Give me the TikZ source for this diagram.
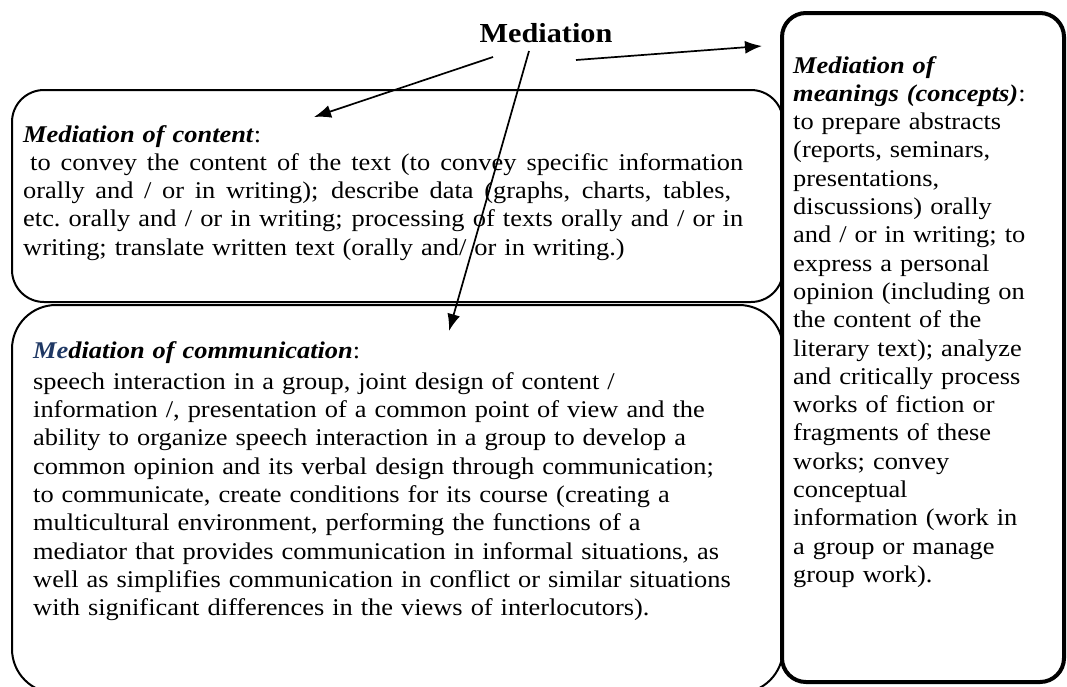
\documentclass[tikz,border=0pt]{standalone}
\usepackage{fontspec}
\setmainfont{Liberation Serif}[FakeStretch=1.1]
\usetikzlibrary{arrows.meta}
\definecolor{navy}{HTML}{1F3864}
\tikzset{
  box/.style={draw, line width=2pt},
  bigbox/.style={draw, line width=4pt, fill=white, rounded corners=24pt},
  body/.style={anchor=base west, inner sep=0pt, align=left, text width=750pt,
    font=\fontsize{24}{28.3}\selectfont},
  side/.style={anchor=base west, inner sep=0pt, align=left, text width=265pt,
    font=\fontsize{24}{28.3}\selectfont},
  arr/.style={line width=1.7pt, -{Latex[length=17pt,width=13pt]}},
}
\newcommand{\hd}[1]{\textbf{\textit{#1}}}
\newcommand{\jl}[2]{\leavevmode\hbox to #1{\spaceskip=0.275em plus 1fil\relax #2}}
\begin{document}
\begin{tikzpicture}[x=1pt,y=-1pt]
\clip (0,0) rectangle (1067,686);
\fill[white] (0,0) rectangle (1067,686);
% boxes
\draw[box, rounded corners=32pt] (12,90) rectangle (783,302);
\draw[box, rounded corners=44pt] (12,305) rectangle (783,693);
\draw[bigbox] (782,13) rectangle (1064,682);
% title
\node[anchor=base, inner sep=0pt, font=\fontsize{27.5}{32}\selectfont\bfseries] (title) at (546,42) {Mediation};
% content
\node[body] (content) at (23,142) {\hd{Mediation of content}:\\
\jl{720pt}{\hspace{7pt}to convey the content of the text (to convey specific information}\\
\jl{708pt}{orally and / or in writing); describe data (graphs, charts, tables,}\\
\jl{720pt}{etc.\ orally and / or in writing; processing of texts orally and / or in}\\
writing; translate written text (orally and/ or in writing.)};
% communication
\node[body] (comm) at (33,358) {\hd{\textcolor{navy}{Me}diation of communication}:\\[3pt]
speech interaction in a group, joint design of content /\\
information /, presentation of a common point of view and the\\
ability to organize speech interaction in a group to develop a\\
common opinion and its verbal design through communication;\\
to communicate, create conditions for its course (creating a\\
multicultural environment, performing the functions of a\\
mediator that provides communication in informal situations, as\\
well as simplifies communication in conflict or similar situations\\
with significant differences in the views of interlocutors).};
% meanings
\node[side] (mean) at (793,73) {\hd{Mediation of}\\
\hd{meanings (concepts)}:\\
to prepare abstracts\\
(reports, seminars,\\
presentations,\\
discussions) orally\\
and / or in writing; to\\
express a personal\\
opinion (including on\\
the content of the\\
literary text); analyze\\
and critically process\\
works of fiction or\\
fragments of these\\
works; convey\\
conceptual\\
information (work in\\
a group or manage\\
group work).};
% arrows
\coordinate (s1) at (493,57);
\coordinate (e1) at (314,117);
\coordinate (s2) at (529,51);
\coordinate (e2) at (449,331);
\coordinate (s3) at (576,60);
\coordinate (e3) at (762,46);
\draw[arr] (s1) -- (e1);
\draw[arr] (s2) -- (e2);
\draw[arr] (s3) -- (e3);
\end{tikzpicture}
\end{document}
